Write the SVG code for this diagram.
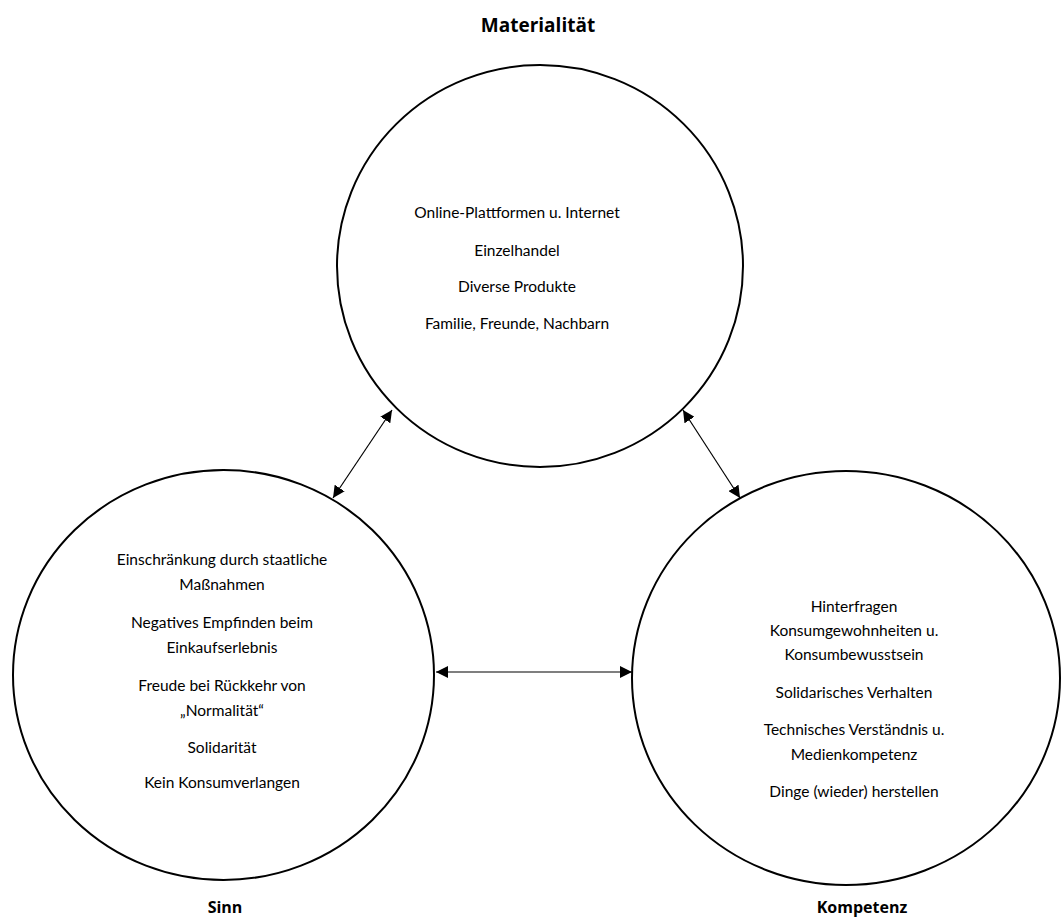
<svg xmlns="http://www.w3.org/2000/svg" width="1061" height="922" viewBox="0 0 1061 922">
<style>
.c{fill:none;stroke:#000;stroke-width:2}
.t{font-family:Lato,"Open Sans",sans-serif;font-size:15.5px;fill:#000;text-anchor:middle}
.h{font-family:"Open Sans","Noto Sans",sans-serif;font-size:16px;font-weight:bold;fill:#000;text-anchor:middle}
.a{stroke:#000;stroke-width:1.2;fill:none;marker-start:url(#ah);marker-end:url(#ah)}
</style>
<defs>
<marker id="ah" viewBox="0 0 10 10" refX="10" refY="5" markerWidth="12" markerHeight="12" markerUnits="userSpaceOnUse" orient="auto-start-reverse">
<path d="M0,0 L10,5 L0,10 z" fill="#000"/>
</marker>
</defs>
<rect width="1061" height="922" fill="#fff"/>
<g id="materialitaet">
<ellipse class="c" cx="540" cy="266" rx="203" ry="201"/>
<text class="h" x="538" y="32" style="font-size:19px">Materialität</text>
<text class="t" x="517" y="218">Online-Plattformen u. Internet</text>
<text class="t" x="517" y="256">Einzelhandel</text>
<text class="t" x="517" y="292">Diverse Produkte</text>
<text class="t" x="517" y="329">Familie, Freunde, Nachbarn</text>
</g>
<g id="sinn">
<ellipse class="c" cx="223.5" cy="675" rx="210.5" ry="205"/>
<text class="h" x="225" y="913">Sinn</text>
<text class="t" x="222" y="565">Einschränkung durch staatliche</text>
<text class="t" x="222" y="590">Maßnahmen</text>
<text class="t" x="222" y="628">Negatives Empfinden beim</text>
<text class="t" x="222" y="653">Einkaufserlebnis</text>
<text class="t" x="222" y="691">Freude bei Rückkehr von</text>
<text class="t" x="222" y="716">„Normalität“</text>
<text class="t" x="222" y="753">Solidarität</text>
<text class="t" x="222" y="788">Kein Konsumverlangen</text>
</g>
<g id="kompetenz">
<ellipse class="c" cx="846" cy="678" rx="214" ry="207"/>
<text class="h" x="862" y="913">Kompetenz</text>
<text class="t" x="854" y="612">Hinterfragen</text>
<text class="t" x="854" y="636">Konsumgewohnheiten u.</text>
<text class="t" x="854" y="660">Konsumbewusstsein</text>
<text class="t" x="854" y="698">Solidarisches Verhalten</text>
<text class="t" x="854" y="735">Technisches Verständnis u.</text>
<text class="t" x="854" y="760">Medienkompetenz</text>
<text class="t" x="854" y="797">Dinge (wieder) herstellen</text>
</g>
<g id="connectors">
<line class="a" x1="333" y1="498" x2="392" y2="410"/>
<line class="a" x1="683" y1="410" x2="740" y2="498"/>
<line class="a" x1="436" y1="672" x2="632" y2="672"/>
</g>
</svg>
